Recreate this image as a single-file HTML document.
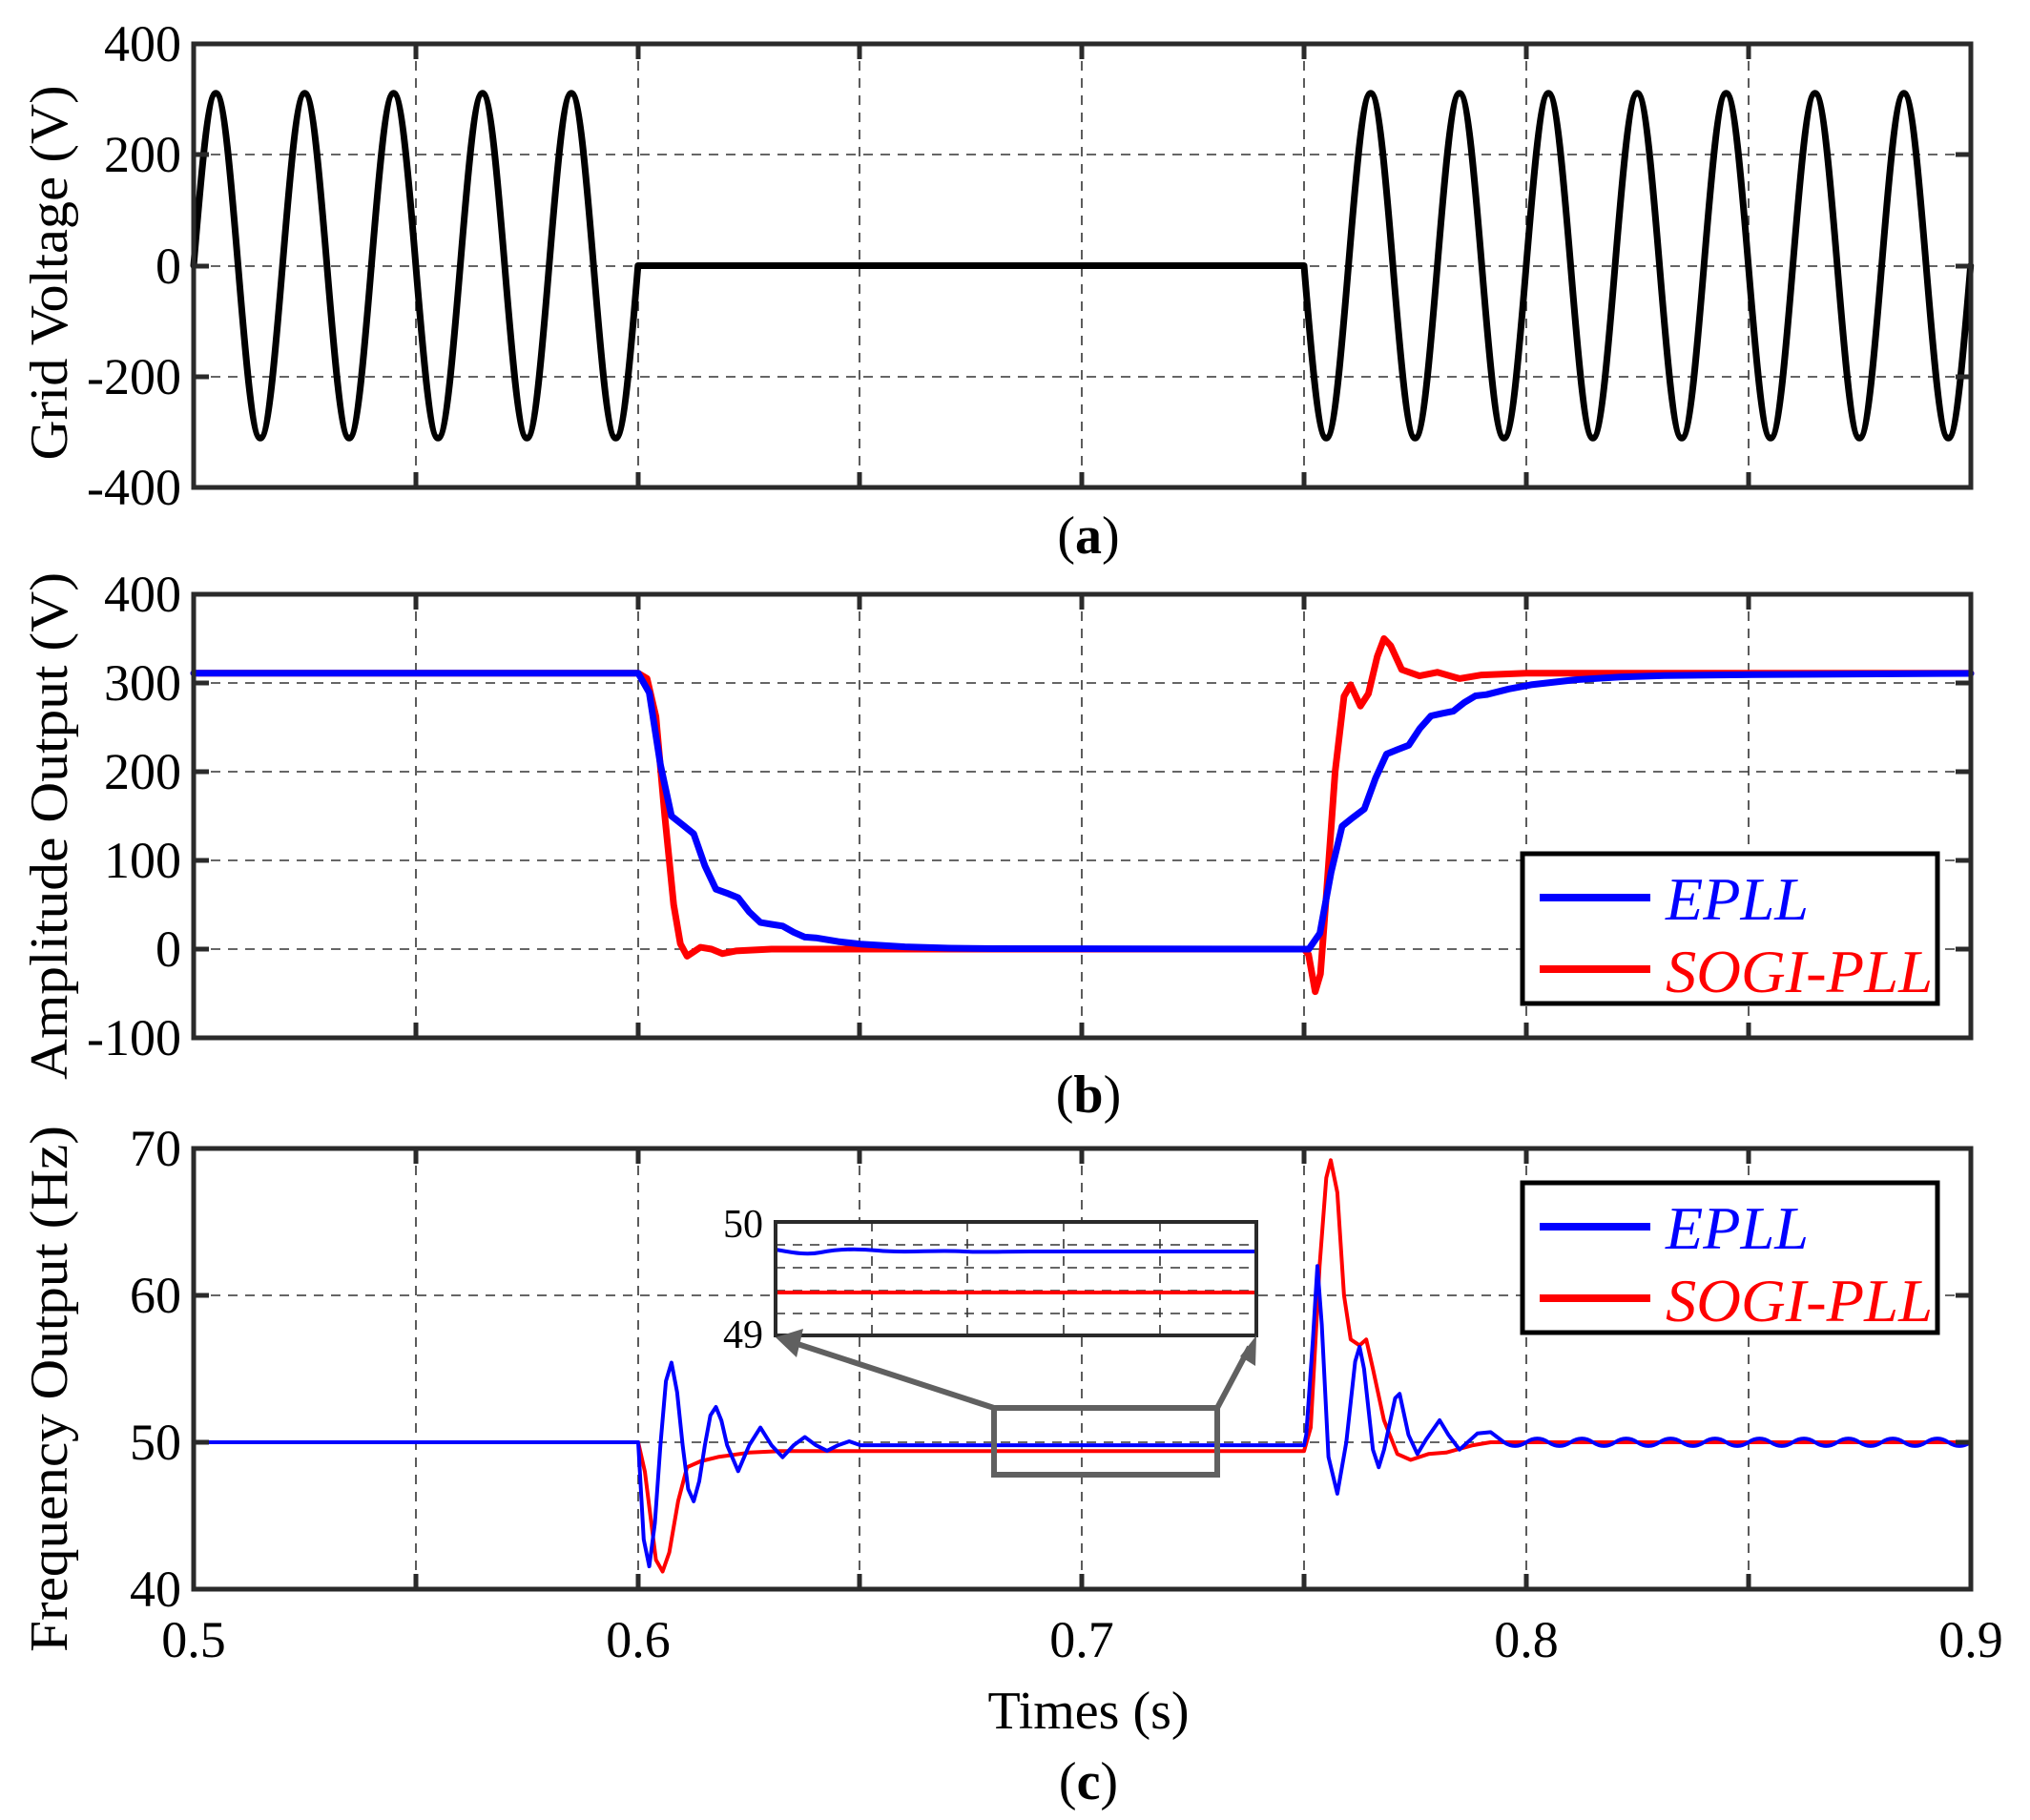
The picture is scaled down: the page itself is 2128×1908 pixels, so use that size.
<!DOCTYPE html>
<html><head><meta charset="utf-8"><style>
html,body{margin:0;padding:0;background:#fff}
svg{display:block}
text{font-family:"Liberation Serif",serif;fill:#000}
</style></head><body>
<svg width="2128" height="1908" viewBox="0 0 2128 1908" xmlns="http://www.w3.org/2000/svg">
<rect width="2128" height="1908" fill="#fff"/>
<!-- grid -->
<g stroke="#333" stroke-width="1.6" stroke-dasharray="10,8" fill="none">
<path d="M436,46V511M669,46V511M901,46V511M1134,46V511M1367,46V511M1600,46V511M1833,46V511M203,162H2066M203,279H2066M203,395H2066"/>
<path d="M436,623V1088M669,623V1088M901,623V1088M1134,623V1088M1367,623V1088M1600,623V1088M1833,623V1088M203,716H2066M203,809H2066M203,902H2066M203,995H2066"/>
<path d="M436,1204V1666M669,1204V1666M901,1204V1666M1134,1204V1666M1367,1204V1666M1600,1204V1666M1833,1204V1666M203,1358H2066M203,1512H2066"/>
</g>
<!-- series -->
<g fill="none" stroke-linejoin="round" stroke-linecap="round">
<path stroke="#000" stroke-width="7" d="M203,278.5
c7.595,-92.62 14.86,-180.8 23.29,-180.8 c8.43,0 15.69,88.18 23.29,180.8 c7.595,92.62 14.86,180.8 23.29,180.8 c8.43,0 15.69,-88.18 23.29,-180.8
c7.595,-92.62 14.86,-180.8 23.29,-180.8 c8.43,0 15.69,88.18 23.29,180.8 c7.595,92.62 14.86,180.8 23.29,180.8 c8.43,0 15.69,-88.18 23.29,-180.8
c7.595,-92.62 14.86,-180.8 23.29,-180.8 c8.43,0 15.69,88.18 23.29,180.8 c7.595,92.62 14.86,180.8 23.29,180.8 c8.43,0 15.69,-88.18 23.29,-180.8
c7.595,-92.62 14.86,-180.8 23.29,-180.8 c8.43,0 15.69,88.18 23.29,180.8 c7.595,92.62 14.86,180.8 23.29,180.8 c8.43,0 15.69,-88.18 23.29,-180.8
c7.595,-92.62 14.86,-180.8 23.29,-180.8 c8.43,0 15.69,88.18 23.29,180.8 c7.595,92.62 14.86,180.8 23.29,180.8 c8.43,0 15.69,-88.18 23.29,-180.8
L1367,278.5
c7.595,92.62 14.86,180.8 23.29,180.8 c8.43,0 15.69,-88.18 23.29,-180.8 c7.595,-92.62 14.86,-180.8 23.29,-180.8 c8.43,0 15.69,88.18 23.29,180.8
c7.595,92.62 14.86,180.8 23.29,180.8 c8.43,0 15.69,-88.18 23.29,-180.8 c7.595,-92.62 14.86,-180.8 23.29,-180.8 c8.43,0 15.69,88.18 23.29,180.8
c7.595,92.62 14.86,180.8 23.29,180.8 c8.43,0 15.69,-88.18 23.29,-180.8 c7.595,-92.62 14.86,-180.8 23.29,-180.8 c8.43,0 15.69,88.18 23.29,180.8
c7.595,92.62 14.86,180.8 23.29,180.8 c8.43,0 15.69,-88.18 23.29,-180.8 c7.595,-92.62 14.86,-180.8 23.29,-180.8 c8.43,0 15.69,88.18 23.29,180.8
c7.595,92.62 14.86,180.8 23.29,180.8 c8.43,0 15.69,-88.18 23.29,-180.8 c7.595,-92.62 14.86,-180.8 23.29,-180.8 c8.43,0 15.69,88.18 23.29,180.8
c7.595,92.62 14.86,180.8 23.29,180.8 c8.43,0 15.69,-88.18 23.29,-180.8 c7.595,-92.62 14.86,-180.8 23.29,-180.8 c8.43,0 15.69,88.18 23.29,180.8
c7.595,92.62 14.86,180.8 23.29,180.8 c8.43,0 15.69,-88.18 23.29,-180.8 c7.595,-92.62 14.86,-180.8 23.29,-180.8 c8.43,0 15.69,88.18 23.29,180.8
c7.595,92.62 14.86,180.8 23.29,180.8 c8.43,0 15.69,-88.18 23.29,-180.8"/>
<!-- (b) red -->
<path stroke="#ff0000" stroke-width="7" d="M203,705.8 L669,705.8 678.3,711.4 687.6,751.3 696.9,855.5 706.2,948.5 713.2,989.4 720.2,1002.4 727.2,997.8 734.2,993.1 745.8,995 757.4,999.7 771.4,996.9 808.7,995 1367,995 1371.7,1000.6 1378.7,1039.6 1384.2,1021 1390.3,939.2 1399.6,809 1408.9,730 1415.9,717.9 1426.1,740.2 1434.5,727.2 1443.8,688.1 1450.8,669.5 1457.8,676.9 1469.4,702 1488,708.6 1506.7,704.8 1530,711.4 1553.2,707.6 1599.8,705.8 2066,705.8"/>
<!-- (b) blue -->
<path stroke="#0000ff" stroke-width="7" d="M203,705.8 L669,705.8 680.6,726.2 692.3,801.6 703.9,855.5 715.6,864.8 727.2,874.1 738.9,907.6 750.5,932.2 762.2,936.4 773.8,941.1 785.4,956 797.1,967.1 808.7,969 820.4,970.8 832,977.3 843.7,982.4 855.3,983.2 878.6,987.1 901.9,989.7 948.5,992.6 995,994 1041.6,994.5 1367,995 1372,995 1383.6,978.4 1395.3,914.7 1406.9,866.1 1418.6,856.8 1430.2,848.1 1441.9,815.9 1453.5,790.5 1465.2,785.8 1476.8,781.2 1488.4,763.7 1500.1,750.5 1511.7,747.9 1523.4,745.6 1535,736.5 1546.7,729.5 1558.3,728.2 1581.6,722.3 1604.9,717.9 1651.5,712.6 1698,709.8 1744.6,708.3 1837.8,707.2 2066,706"/>
<!-- (c) red -->
<path stroke="#ff0000" stroke-width="4" d="M203,1512 L669,1512 676,1542.8 687.6,1635.2 694.6,1647.5 701.6,1627.5 710.9,1573.6 720.2,1538.2 734.2,1532 752.8,1527.4 785.4,1522.8 818,1521.2 1367,1521.2 1374,1496.6 1383.3,1327.2 1390.3,1234.8 1395,1216.3 1401.9,1250.2 1408.9,1358 1415.9,1404.2 1425.2,1410.4 1432.2,1404.2 1439.2,1435 1450.8,1488.9 1464.8,1524.3 1478.8,1530.5 1497.4,1524.3 1516,1522.8 1544,1515.1 1562.6,1512 2066,1512"/>
<!-- (c) blue -->
<path stroke="#0000ff" stroke-width="4" d="M203,1512 L669,1512 674.8,1613.9 680.6,1642.1 686.5,1596.7 692.3,1515.1 698.1,1447.8 703.9,1428.5 709.8,1459.5 715.6,1515.1 721.4,1561 727.2,1573.9 733,1552.8 738.9,1515.1 744.7,1483.8 750.5,1475 756.3,1489.4 762.2,1515.1 773.8,1542.3 785.4,1515.1 797.1,1496.6 808.7,1515.1 820.4,1527.7 832,1515.1 843.7,1506.5 855.3,1515.1 867,1520.9 878.6,1515.1 890.2,1511 901.9,1515.1 1367,1515.1 1369.3,1504.3 1376.3,1404.2 1381,1327.2 1385.6,1388.8 1392.6,1527.4 1401.9,1565.9 1411.3,1512 1420.6,1427.3 1425.2,1411.9 1429.9,1435 1439.2,1519.7 1445.3,1538.2 1450.9,1519.7 1462.5,1465.8 1467.2,1461.2 1476.5,1504.3 1485.8,1524.3 1495.1,1508.9 1509.1,1488.9 1518.4,1504.3 1530,1519.7 1548.7,1502.8 1562.6,1501.4 1576.6,1512 q11.65,7.7 23.29,0 t23.29,0 t23.29,0 t23.29,0 t23.29,0 t23.29,0 t23.29,0 t23.29,0 t23.29,0 t23.29,0 t23.29,0 t23.29,0 t23.29,0 t23.29,0 t23.29,0 t23.29,0 t23.29,0 t23.29,0 t23.29,0 t23.29,0 t23.29,0"/>
</g>
<!-- frames + ticks -->
<g fill="none" stroke="#2a2a2a" stroke-width="5">
<rect x="203" y="46" width="1863" height="465"/>
<rect x="203" y="623" width="1863" height="465"/>
<rect x="203" y="1204" width="1863" height="462"/>
<path d="M436,46v16M669,46v16M901,46v16M1134,46v16M1367,46v16M1600,46v16M1833,46v16M436,511v-16M669,511v-16M901,511v-16M1134,511v-16M1367,511v-16M1600,511v-16M1833,511v-16M203,162h16M203,279h16M203,395h16M2066,162h-16M2066,279h-16M2066,395h-16"/>
<path d="M436,623v16M669,623v16M901,623v16M1134,623v16M1367,623v16M1600,623v16M1833,623v16M436,1088v-16M669,1088v-16M901,1088v-16M1134,1088v-16M1367,1088v-16M1600,1088v-16M1833,1088v-16M203,716h16M203,809h16M203,902h16M203,995h16M2066,716h-16M2066,809h-16M2066,902h-16M2066,995h-16"/>
<path d="M436,1204v16M669,1204v16M901,1204v16M1134,1204v16M1367,1204v16M1600,1204v16M1833,1204v16M436,1666v-16M669,1666v-16M901,1666v-16M1134,1666v-16M1367,1666v-16M1600,1666v-16M1833,1666v-16M203,1358h16M203,1512h16M2066,1358h-16M2066,1512h-16"/>
</g>
<!-- y tick labels -->
<g font-size="54" text-anchor="end">
<text x="190" y="64">400</text><text x="190" y="180">200</text><text x="190" y="297">0</text><text x="190" y="413">-200</text><text x="190" y="529">-400</text>
<text x="190" y="641">400</text><text x="190" y="734">300</text><text x="190" y="827">200</text><text x="190" y="920">100</text><text x="190" y="1013">0</text><text x="190" y="1106">-100</text>
<text x="190" y="1222">70</text><text x="190" y="1376">60</text><text x="190" y="1530">50</text><text x="190" y="1684">40</text>
</g>
<g font-size="54" text-anchor="middle">
<text x="203" y="1737">0.5</text><text x="669" y="1737">0.6</text><text x="1134" y="1737">0.7</text><text x="1600" y="1737">0.8</text><text x="2066" y="1737">0.9</text>
<text x="1141" y="1812" font-size="56">Times (s)</text>
<text x="1141" y="580" font-size="56">(<tspan font-weight="bold">a</tspan>)</text>
<text x="1141" y="1166" font-size="56">(<tspan font-weight="bold">b</tspan>)</text>
<text x="1141" y="1886" font-size="56">(<tspan font-weight="bold">c</tspan>)</text>
</g>
<g font-size="56" text-anchor="middle">
<text transform="translate(70,286) rotate(-90)" textLength="393" lengthAdjust="spacingAndGlyphs">Grid Voltage (V)</text>
<text transform="translate(70,866) rotate(-90)" textLength="532" lengthAdjust="spacingAndGlyphs">Amplitude Output (V)</text>
<text transform="translate(70,1456) rotate(-90)" textLength="552" lengthAdjust="spacingAndGlyphs">Frequency Output (Hz)</text>
</g>
<!-- legends -->
<g>
<rect x="1596" y="895" width="435" height="157" fill="#fff" stroke="#000" stroke-width="5"/>
<line x1="1614" y1="941" x2="1730" y2="941" stroke="#0000ff" stroke-width="8"/>
<line x1="1614" y1="1016" x2="1730" y2="1016" stroke="#ff0000" stroke-width="8"/>
<text x="1746" y="964" font-size="64" font-style="italic" style="fill:#0000ff" textLength="150" lengthAdjust="spacingAndGlyphs">EPLL</text>
<text x="1746" y="1040" font-size="64" font-style="italic" style="fill:#ff0000" textLength="280" lengthAdjust="spacingAndGlyphs">SOGI-PLL</text>
</g>
<g>
<rect x="1596" y="1240" width="435" height="157" fill="#fff" stroke="#000" stroke-width="5"/>
<line x1="1614" y1="1286" x2="1730" y2="1286" stroke="#0000ff" stroke-width="8"/>
<line x1="1614" y1="1361" x2="1730" y2="1361" stroke="#ff0000" stroke-width="8"/>
<text x="1746" y="1309" font-size="64" font-style="italic" style="fill:#0000ff" textLength="150" lengthAdjust="spacingAndGlyphs">EPLL</text>
<text x="1746" y="1385" font-size="64" font-style="italic" style="fill:#ff0000" textLength="280" lengthAdjust="spacingAndGlyphs">SOGI-PLL</text>
</g>
<!-- inset -->
<g>
<rect x="813" y="1281" width="504" height="119" fill="#fff"/>
<g stroke="#333" stroke-width="1.6" stroke-dasharray="10,8">
<line x1="813" y1="1305" x2="1317" y2="1305"/><line x1="813" y1="1329" x2="1317" y2="1329"/><line x1="813" y1="1353" x2="1317" y2="1353"/><line x1="813" y1="1377" x2="1317" y2="1377"/>
<line x1="914" y1="1281" x2="914" y2="1400"/><line x1="1014" y1="1281" x2="1014" y2="1400"/><line x1="1115" y1="1281" x2="1115" y2="1400"/><line x1="1216" y1="1281" x2="1216" y2="1400"/>
</g>
<line x1="813" y1="1355" x2="1317" y2="1355" stroke="#ff0000" stroke-width="4"/>
<path d="M813,1310 C830,1313 845,1316 860,1313 C880,1309 900,1309 920,1311 C950,1314 980,1310 1010,1312 C1030,1313 1050,1312 1080,1312 L1317,1312" stroke="#0000ff" stroke-width="4" fill="none"/>
<rect x="813" y="1281" width="504" height="119" fill="none" stroke="#2a2a2a" stroke-width="4"/>
<text x="800" y="1297" font-size="42" text-anchor="end">50</text>
<text x="800" y="1413" font-size="42" text-anchor="end">49</text>
</g>
<g stroke="#606060" stroke-width="6" fill="none">
<rect x="1042" y="1476" width="234" height="70"/>
<line x1="1042" y1="1476" x2="830" y2="1407"/>
<line x1="1276" y1="1476" x2="1310" y2="1412"/>
</g>
<g fill="#606060">
<polygon points="813,1402 842,1393 835,1423"/>
<polygon points="1317,1400 1316,1432 1300,1422"/>
</g>
</svg>
</body></html>
